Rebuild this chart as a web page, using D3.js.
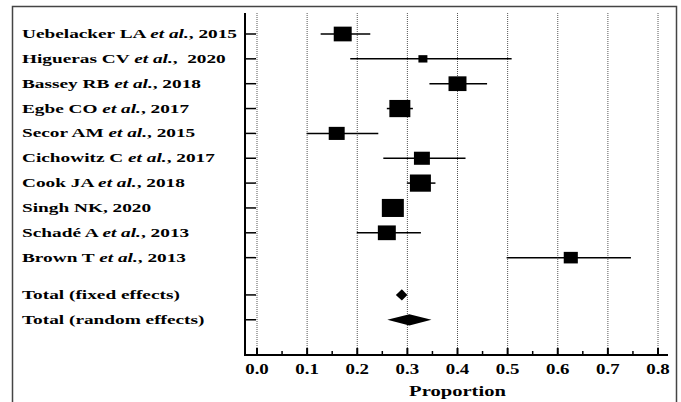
<!doctype html>
<html>
<head>
    <meta charset="utf-8">
    <title>Forest plot</title>
    <script src="https://d3js.org/d3.v7.min.js"></script>
    <style type="text/css">
        html, body { margin: 0; background: #fff; }
        svg text { font-family: "Liberation Serif", "Times New Roman", serif; font-weight: bold; fill: #000; white-space: pre; }
    </style>
</head>
<body>
<svg id="chart" width="681" height="402"></svg>
<script type="text/javascript">
    // study labels (name part, italic part, year part)
    var studies = ["Uebelacker LA", "Higueras CV", "Bassey RB", "Egbe CO", "Secor AM",
                   "Cichowitz C", "Cook JA", "Singh NK", "Schadé A", "Brown T"];
    var etAl = [true, true, true, true, true, true, true, false, true, true];
    var years = ["2015", " 2020", "2018", "2017", "2015", "2017", "2018", "2020", "2013", "2013"];
    var estimate = [0.171, 0.331, 0.400, 0.285, 0.159, 0.329, 0.326, 0.271, 0.259, 0.626];
    var lower = [0.127, 0.186, 0.344, 0.259, 0.099, 0.252, 0.299, 0.256, 0.199, 0.498];
    var upper = [0.226, 0.508, 0.459, 0.311, 0.242, 0.416, 0.356, 0.288, 0.327, 0.746];
    var weights = [10.4, 2.6, 10.4, 14.2, 8.2, 8.2, 14.2, 15.6, 10.4, 6.4];

    var totals = ["Total (fixed effects)", "Total (random effects)"];
    var totalEst = [0.289, 0.304];
    var totalLow = [0.277, 0.260];
    var totalHigh = [0.300, 0.348];

    var xTicks = [0.0, 0.1, 0.2, 0.3, 0.4, 0.5, 0.6, 0.7, 0.8];
    var xMinor = [0.05, 0.15, 0.25, 0.35, 0.45, 0.55, 0.65, 0.75];

    var svg = d3.select("#chart");

    var x = d3.scaleLinear().domain([0, 0.8]).range([257, 658]);
    // row index -> y ; totals sit at 10.5 and 11.5
    var y = d3.scaleLinear().domain([0, 1]).range([34, 58.85]);
    var size = d3.scaleSqrt().domain([0, 15.6]).range([0, 22]);

    var axisLeft = 245, axisBottom = 355, plotTop = 13, axisRight = 668;

    // outer frame (open at the bottom)
    svg.append("path")
        .attr("d", "M12.5,402 V6.5 H676.5 V402")
        .attr("fill", "none").attr("stroke", "#444").attr("stroke-width", 1.5);

    // dotted grid
    svg.selectAll(".grid").data(xTicks).enter().append("line")
        .attr("class", "grid")
        .attr("x1", function(d) { return x(d); }).attr("x2", function(d) { return x(d); })
        .attr("y1", plotTop).attr("y2", axisBottom)
        .attr("stroke", "#555").attr("stroke-width", 1).attr("stroke-dasharray", "1,1");

    // axes
    svg.append("line").attr("x1", axisLeft).attr("x2", axisLeft)
        .attr("y1", plotTop).attr("y2", axisBottom + 1)
        .attr("stroke", "#000").attr("stroke-width", 2);
    svg.append("line").attr("x1", axisLeft - 1).attr("x2", axisRight)
        .attr("y1", axisBottom).attr("y2", axisBottom)
        .attr("stroke", "#000").attr("stroke-width", 2);

    var rowIdx = d3.range(studies.length).concat([10.5, 11.5]);
    svg.selectAll(".ytick").data(rowIdx).enter().append("line")
        .attr("x1", axisLeft).attr("x2", axisLeft + 11)
        .attr("y1", function(d) { return y(d); }).attr("y2", function(d) { return y(d); })
        .attr("stroke", "#000").attr("stroke-width", 1.5);

    svg.selectAll(".xmaj").data(xTicks).enter().append("line")
        .attr("x1", function(d) { return x(d); }).attr("x2", function(d) { return x(d); })
        .attr("y1", axisBottom).attr("y2", axisBottom - 7)
        .attr("stroke", "#000").attr("stroke-width", 2);
    svg.selectAll(".xmin").data(xMinor).enter().append("line")
        .attr("x1", function(d) { return x(d); }).attr("x2", function(d) { return x(d); })
        .attr("y1", axisBottom).attr("y2", axisBottom - 4)
        .attr("stroke", "#000").attr("stroke-width", 1.5);

    svg.selectAll(".xlab").data(xTicks).enter().append("text")
        .attr("transform", function(d) { return "translate(" + x(d) + ",373.5) scale(1.3,1)"; })
        .attr("text-anchor", "middle").style("font-size", "14.5px")
        .text(function(d) { return d3.format(".1f")(d); });

    svg.append("text")
        .attr("transform", "translate(" + x(0.4) + ",395.5) scale(1.42,1)")
        .attr("text-anchor", "middle").style("font-size", "14.5px")
        .text("Proportion");

    // study rows
    var rows = svg.selectAll(".row").data(studies).enter().append("g").attr("class", "row");
    rows.append("line")
        .attr("x1", function(d, i) { return x(lower[i]); })
        .attr("x2", function(d, i) { return x(upper[i]); })
        .attr("y1", function(d, i) { return y(i); }).attr("y2", function(d, i) { return y(i); })
        .attr("stroke", "#000").attr("stroke-width", 1.5);
    rows.append("rect")
        .attr("x", function(d, i) { return x(estimate[i]) - size(weights[i]) / 2; })
        .attr("y", function(d, i) { return y(i) - size(weights[i]) * 0.41; })
        .attr("width", function(d, i) { return size(weights[i]); })
        .attr("height", function(d, i) { return size(weights[i]) * 0.82; })
        .attr("fill", "#000");

    var labels = rows.append("text")
        .attr("transform", function(d, i) { return "translate(22," + (y(i) + 4) + ") scale(1.43,1)"; })
        .style("font-size", "13.5px");
    labels.append("tspan").text(function(d, i) { return studies[i] + (etAl[i] ? " " : ", "); });
    labels.append("tspan").style("font-style", "italic")
        .text(function(d, i) { return etAl[i] ? "et al." : ""; });
    labels.append("tspan").text(function(d, i) { return (etAl[i] ? ", " : "") + years[i]; });

    // pooled estimates
    var tot = svg.selectAll(".tot").data(totals).enter().append("g").attr("class", "tot");
    tot.append("path")
        .attr("d", function(d, i) {
            var cy = y(10.5 + i), h = 5.6;
            return "M" + x(totalLow[i]) + "," + cy + "L" + x(totalEst[i]) + "," + (cy - h) +
                   "L" + x(totalHigh[i]) + "," + cy + "L" + x(totalEst[i]) + "," + (cy + h) + "Z";
        })
        .attr("fill", "#000");
    tot.append("text")
        .attr("transform", function(d, i) { return "translate(22," + (y(10.5 + i) + 4) + ") scale(1.43,1)"; })
        .style("font-size", "13.5px")
        .text(function(d) { return d; });
</script>
</body>
</html>
